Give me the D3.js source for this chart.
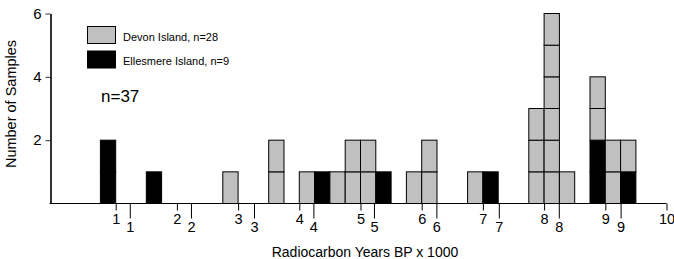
<!DOCTYPE html>
<html>
<head>
<meta charset="utf-8">
<script src="https://cdn.jsdelivr.net/npm/d3@7"></script>
<style>
  body { margin: 0; background: #fff; }
  svg text { font-family: "Liberation Sans", Arial, Helvetica, sans-serif; fill: #000; }
</style>
</head>
<body>
<div class="histogram-container"></div>
<script>
// Data: 250-year bins (start, in ka BP) and sample counts per island
const binStart  = [0.75, 1.5, 2.75, 3.5, 4.0, 4.25, 4.5, 4.75, 5.0, 5.25, 5.75, 6.0, 6.75, 7.0, 7.75, 8.0, 8.25, 8.75, 9.0, 9.25];
const devon     = [0,    0,   1,    2,   1,   0,    1,   2,    2,   0,    1,    2,   1,    0,   3,    6,   1,    2,    2,   1];
const ellesmere = [2,    1,   0,    0,   0,   1,    0,   0,    0,   1,    0,    0,   0,    1,   0,    0,   0,    2,    0,   1];
const binWidth = 0.25;

// tick labels: upper row and the shifted lower row
const upperTicks = [1, 2, 3, 4, 5, 6, 7, 8, 9, 10];
const lowerTickLabels = [1, 2, 3, 4, 5, 6, 7, 8, 9];
const lowerTickPos = [1.23, 2.23, 3.26, 4.23, 5.22, 6.24, 7.26, 8.24, 9.25];
const yTicks = [2, 4, 6];

const legendItems = [
    { label: 'Devon Island, n=28', fill: '#c0c0c0' },
    { label: 'Ellesmere Island, n=9', fill: '#000' }
];

// one unit box per sample, Ellesmere stacked first
function prepareCells() {
    const cells = [];
    binStart.forEach((s, i) => {
        let level = 0;
        for (let j = 0; j < ellesmere[i]; j++) cells.push({ start: s, level: level++, fill: '#000' });
        for (let j = 0; j < devon[i]; j++) cells.push({ start: s, level: level++, fill: '#c0c0c0' });
    });
    return cells;
}

function setupCanvas(cells) {
    const svg_width = 674;
    const svg_height = 259;
    const axisX = 50.5;

    const svg = d3.select('.histogram-container').append('svg')
        .attr('width', svg_width).attr('height', svg_height);

    const xScale = d3.scaleLinear().domain([0, 10]).range([54.5, 666.5]);
    const yScale = d3.scaleLinear().domain([0, 6]).range([203.5, 13.5]);

    // boxes
    svg.selectAll('.cell').data(cells).enter()
        .append('rect').attr('class', 'cell')
        .attr('x', d => xScale(d.start))
        .attr('y', d => yScale(d.level + 1))
        .attr('width', d => xScale(d.start + binWidth) - xScale(d.start))
        .attr('height', d => yScale(d.level) - yScale(d.level + 1))
        .style('fill', d => d.fill)
        .style('stroke', '#000')
        .style('stroke-width', 1);

    // y axis
    const yAxis = d3.axisLeft(yScale).tickValues(yTicks).tickFormat(d3.format('d'))
        .tickSize(5).tickSizeOuter(0).tickPadding(4);
    const yAxisDraw = svg.append('g').attr('transform', `translate(${axisX},0)`).call(yAxis);
    yAxisDraw.select('.domain').attr('stroke', '#333').attr('stroke-width', 2);
    yAxisDraw.selectAll('.tick line').attr('stroke', '#333');
    yAxisDraw.selectAll('text').style('font-size', '15px');

    // x axis, two rows of ticks
    const xUpper = d3.axisBottom(xScale).tickValues(upperTicks).tickFormat(d3.format('d'))
        .tickSize(7).tickSizeOuter(0).tickPadding(3);
    const xUpperDraw = svg.append('g').attr('transform', `translate(0,${yScale(0)})`).call(xUpper);
    xUpperDraw.select('.domain').remove();
    xUpperDraw.selectAll('text').style('font-size', '14.5px');

    const xLower = d3.axisBottom(xScale).tickValues(lowerTickPos)
        .tickFormat((d, i) => lowerTickLabels[i])
        .tickSize(15).tickSizeOuter(0).tickPadding(3);
    const xLowerDraw = svg.append('g').attr('transform', `translate(0,${yScale(0)})`).call(xLower);
    xLowerDraw.select('.domain').remove();
    xLowerDraw.selectAll('text').style('font-size', '14.5px');

    svg.append('line')
        .attr('x1', axisX - 1).attr('x2', xScale(10))
        .attr('y1', yScale(0)).attr('y2', yScale(0))
        .attr('stroke', '#000').attr('stroke-width', 1.2);

    // axis titles
    svg.append('text')
        .attr('x', 365).attr('y', 257)
        .style('text-anchor', 'middle').style('font-size', '14px')
        .text('Radiocarbon Years BP x 1000');
    svg.append('text')
        .attr('transform', 'translate(16,104) rotate(-90)')
        .style('text-anchor', 'middle').style('font-size', '14.5px')
        .text('Number of Samples');

    // legend
    const legend = svg.append('g').attr('class', 'legend');
    legendItems.forEach((d, i) => {
        legend.append('rect')
            .attr('x', 87.5).attr('y', 26.5 + i * 24.5)
            .attr('width', 28).attr('height', 17)
            .style('fill', d.fill).style('stroke', '#000');
        legend.append('text')
            .attr('x', 123).attr('y', 40.5 + i * 24.5)
            .style('font-size', '11px')
            .text(d.label);
    });

    svg.append('text')
        .attr('x', 101).attr('y', 101.5)
        .style('font-size', '17px')
        .text('n=37');
}

// Main
setupCanvas(prepareCells());
</script>
</body>
</html>
